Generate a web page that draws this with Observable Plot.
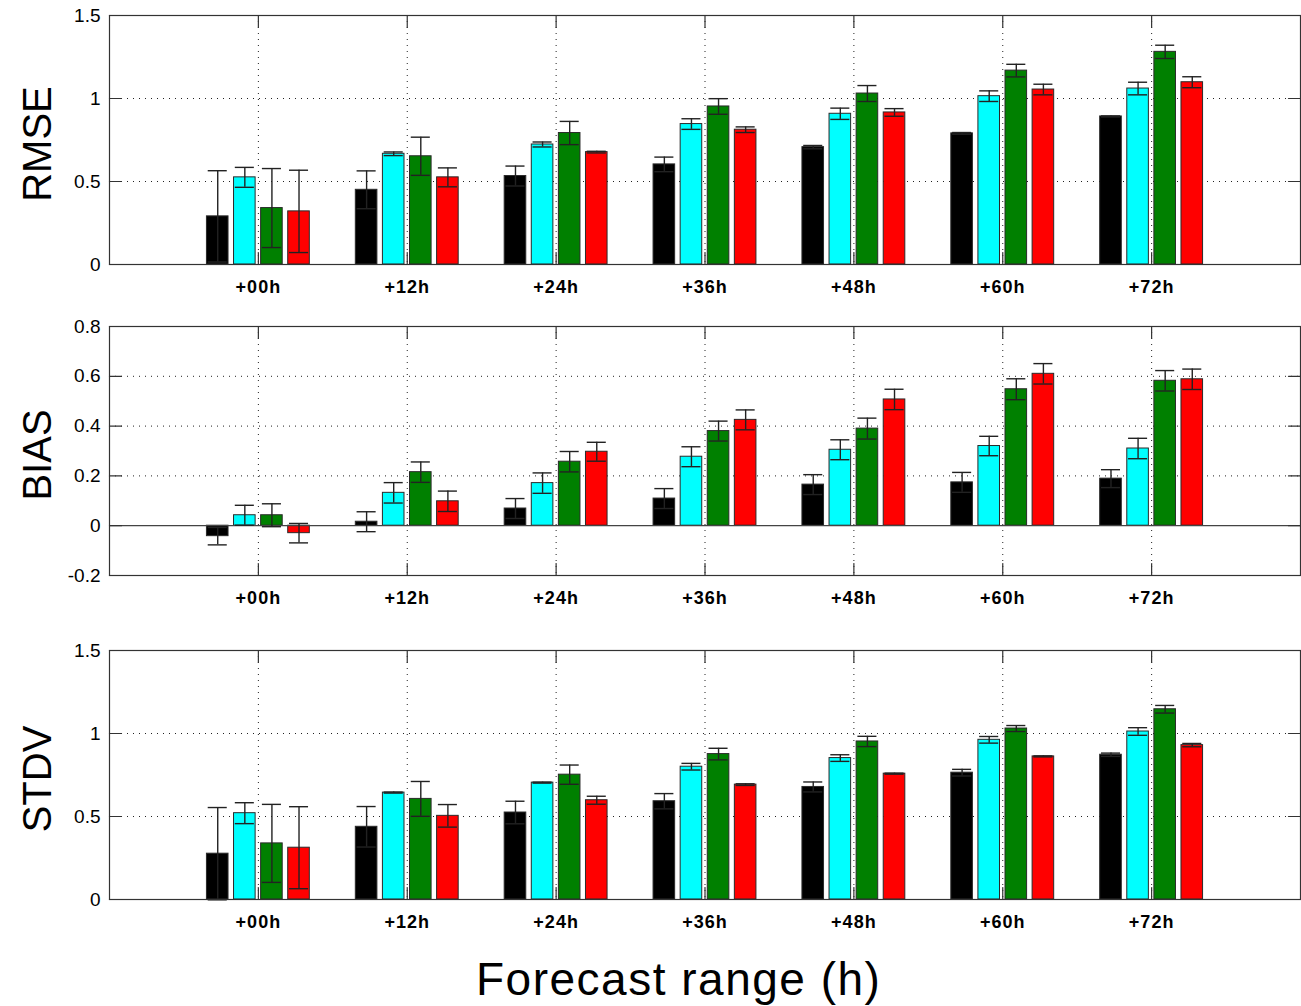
<!DOCTYPE html>
<html>
<head>
<meta charset="utf-8">
<script src="https://cdn.jsdelivr.net/npm/d3@7"></script>
<script src="https://cdn.jsdelivr.net/npm/@observablehq/plot@0.6"></script>
<style>
  body { margin: 0; background: #fff; }
  #wrap { position: relative; width: 1301px; height: 1006px; font-family: "Liberation Sans", Arial, sans-serif; overflow: hidden; }
  .panel { position: absolute; left: 0; }
  #caption { position: absolute; left: 476px; top: 956px; font-size: 46px; line-height: 46px; letter-spacing: 1.5px; color: #000; white-space: nowrap; }
</style>
</head>
<body>
<div id="wrap">
  <div id="p1" class="panel" style="top:0px"></div>
  <div id="p2" class="panel" style="top:311px"></div>
  <div id="p3" class="panel" style="top:635px"></div>
  <div id="caption">Forecast range (h)</div>
</div>
<script>
// ---------- data ----------
const ranges = ["+00h", "+12h", "+24h", "+36h", "+48h", "+60h", "+72h"];
const seriesColors = ["#000000", "#00ffff", "#008000", "#ff0000"];

// RMSE (black, cyan, green, red) per forecast range
const rmseBlack = [0.29, 0.45, 0.533, 0.603, 0.707, 0.79, 0.892];
const rmseCyan  = [0.525, 0.667, 0.723, 0.846, 0.908, 1.014, 1.06];
const rmseGreen = [0.34, 0.652, 0.792, 0.952, 1.03, 1.168, 1.281];
const rmseRed   = [0.32, 0.525, 0.677, 0.812, 0.916, 1.054, 1.098];
const rmseBlackErr = [0.275, 0.114, 0.06, 0.044, 0.01, 0.005, 0.003];
const rmseCyanErr  = [0.06, 0.011, 0.015, 0.032, 0.034, 0.032, 0.038];
const rmseGreenErr = [0.238, 0.115, 0.07, 0.047, 0.048, 0.038, 0.04];
const rmseRedErr   = [0.248, 0.057, 0.005, 0.017, 0.023, 0.032, 0.033];

// BIAS
const biasBlack = [-0.042, 0.016, 0.069, 0.109, 0.165, 0.174, 0.189];
const biasCyan  = [0.042, 0.132, 0.171, 0.277, 0.305, 0.32, 0.31];
const biasGreen = [0.042, 0.215, 0.257, 0.38, 0.39, 0.548, 0.582];
const biasRed   = [-0.03, 0.098, 0.297, 0.425, 0.507, 0.61, 0.588];
const biasBlackErr = [0.035, 0.04, 0.04, 0.04, 0.04, 0.04, 0.036];
const biasCyanErr  = [0.04, 0.041, 0.041, 0.04, 0.04, 0.039, 0.041];
const biasGreenErr = [0.046, 0.041, 0.041, 0.04, 0.042, 0.042, 0.041];
const biasRedErr   = [0.039, 0.041, 0.038, 0.04, 0.041, 0.041, 0.041];

// STDV
const stdvBlack = [0.276, 0.438, 0.524, 0.592, 0.678, 0.764, 0.872];
const stdvCyan  = [0.52, 0.644, 0.704, 0.80, 0.852, 0.962, 1.012];
const stdvGreen = [0.338, 0.606, 0.752, 0.876, 0.952, 1.03, 1.146];
const stdvRed   = [0.312, 0.504, 0.598, 0.692, 0.758, 0.862, 0.93];
const stdvBlackErr = [0.278, 0.122, 0.068, 0.046, 0.03, 0.02, 0.01];
const stdvCyanErr  = [0.063, 0.003, 0.003, 0.02, 0.02, 0.02, 0.023];
const stdvGreenErr = [0.235, 0.105, 0.058, 0.035, 0.031, 0.018, 0.023];
const stdvRedErr   = [0.247, 0.068, 0.024, 0.005, 0.003, 0.003, 0.01];

const rmseTicks = [0, 0.5, 1, 1.5];
const rmseTickLabels = ["0", "0.5", "1", "1.5"];
const biasTicks = [-0.2, 0, 0.2, 0.4, 0.6, 0.8];
const biasTickLabels = ["-0.2", "0", "0.2", "0.4", "0.6", "0.8"];
const stdvTicks = [0, 0.5, 1, 1.5];
const stdvTickLabels = ["0", "0.5", "1", "1.5"];

// ---------- layout helpers ----------
const groupPos = ranges.map((_, i) => i + 1);
const slot = 0.182, halfBar = 0.0725, halfCap = 0.064;
const tickShape = {draw(context, l) { context.moveTo(0, 0); context.lineTo(0, -l); }};

function rows(vals, errs) {
  const out = [];
  ranges.forEach((r, i) => {
    vals.forEach((arr, s) => {
      const c = (i + 1) + (s - 1.5) * slot;
      out.push({range: r, s, c, value: arr[i], err: errs[s][i], color: seriesColors[s]});
    });
  });
  return out;
}

function panel(el, data, domain, ticks, tickLabels, gridTicks, label, withZero) {
  const fmt = v => tickLabels[ticks.indexOf(v)];
  const tickStyle = {length: 12, shape: tickShape, anchor: "start", stroke: "#333", strokeWidth: 1.2};
  const marks = [
    Plot.gridY(gridTicks, {stroke: "#222", strokeOpacity: 1, strokeDasharray: "1,5"}),
    Plot.gridX(groupPos, {stroke: "#222", strokeOpacity: 1, strokeDasharray: "1,5"}),
    Plot.rect(data, {
      x1: d => d.c - halfBar, x2: d => d.c + halfBar,
      y1: 0, y2: "value", fill: "color", stroke: "#2a2a2a", strokeWidth: 1
    })
  ];
  if (withZero) marks.push(Plot.ruleY([0], {stroke: "#444", strokeWidth: 1.2}));
  marks.push(
    Plot.ruleX(data, {x: "c", y1: d => d.value - d.err, y2: d => d.value + d.err, stroke: "#222", strokeWidth: 1.4}),
    Plot.ruleY(data, {y: d => d.value + d.err, x1: d => d.c - halfCap, x2: d => d.c + halfCap, stroke: "#222", strokeWidth: 1.4}),
    Plot.ruleY(data, {y: d => d.value - d.err, x1: d => d.c - halfCap, x2: d => d.c + halfCap, stroke: "#222", strokeWidth: 1.4}),
    Plot.frame({stroke: "#333", strokeWidth: 1.2}),
    // inward ticks on all four sides
    Plot.vector(ticks, {y: d => d, frameAnchor: "left", rotate: 90, ...tickStyle}),
    Plot.vector(ticks, {y: d => d, frameAnchor: "right", rotate: -90, ...tickStyle}),
    Plot.vector(groupPos, {x: d => d, frameAnchor: "bottom", rotate: 0, ...tickStyle}),
    Plot.vector(groupPos, {x: d => d, frameAnchor: "top", rotate: 180, ...tickStyle}),
    Plot.axisY({anchor: "left", label: null, ticks, tickSize: 0, tickPadding: 9, tickFormat: fmt, fontSize: 19, fill: "#000"}),
    Plot.axisX({anchor: "bottom", label: null, ticks: groupPos, tickSize: 0, tickPadding: 16, tickFormat: v => ranges[v - 1], fontSize: 18, fontWeight: "bold", fill: "#000"}),
    Plot.text([label], {frameAnchor: "left", text: d => d, rotate: -90, dx: -71, dy: 4, textAnchor: "middle", fontSize: 40, fill: "#000"})
  );
  const svg = Plot.plot({
    width: 1301, height: 300,
    marginLeft: 109, marginRight: 1, marginTop: 15, marginBottom: 36,
    x: {domain: [0, 8]},
    y: {domain},
    color: {type: "identity"},
    style: {fontFamily: "'Liberation Sans', Arial, sans-serif", background: "transparent", overflow: "visible"},
    marks
  });
  svg.querySelectorAll('[aria-label="x-axis tick label"] text').forEach(t => t.style.letterSpacing = "1px");
  document.getElementById(el).appendChild(svg);
}

panel("p1", rows([rmseBlack, rmseCyan, rmseGreen, rmseRed], [rmseBlackErr, rmseCyanErr, rmseGreenErr, rmseRedErr]),
      [0, 1.5], rmseTicks, rmseTickLabels, [0.5, 1], "RMSE", false);
panel("p2", rows([biasBlack, biasCyan, biasGreen, biasRed], [biasBlackErr, biasCyanErr, biasGreenErr, biasRedErr]),
      [-0.2, 0.8], biasTicks, biasTickLabels, [0.2, 0.4, 0.6], "BIAS", true);
panel("p3", rows([stdvBlack, stdvCyan, stdvGreen, stdvRed], [stdvBlackErr, stdvCyanErr, stdvGreenErr, stdvRedErr]),
      [0, 1.5], stdvTicks, stdvTickLabels, [0.5, 1], "STDV", false);
</script>
</body>
</html>
